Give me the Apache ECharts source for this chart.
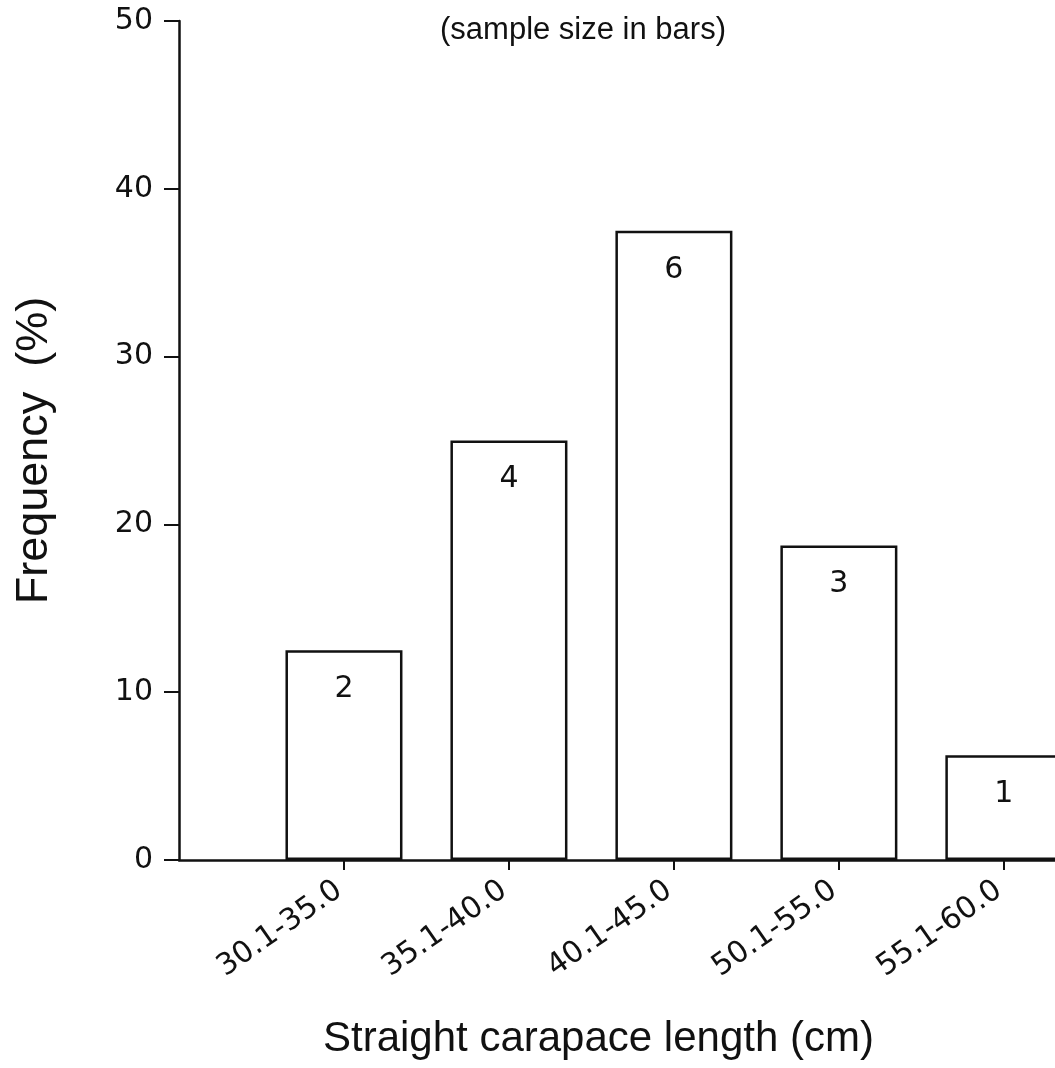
<!DOCTYPE html>
<html>
<head>
<meta charset="utf-8">
<script src="https://cdn.jsdelivr.net/npm/echarts@6/dist/echarts.min.js"></script>
<style>
  html, body { margin: 0; padding: 0; background: #fff; }
  #chart { width: 1055px; height: 1068px; }
</style>
</head>
<body>
<div id="chart"></div>
<script>
// Size classes of straight carapace length (cm)
const sizeClasses = ['30.1-35.0', '35.1-40.0', '40.1-45.0', '50.1-55.0', '55.1-60.0'];
// Frequency (%) of each size class
const frequency = [12.5, 25, 37.5, 18.75, 6.25];
// Number of animals in each size class, printed inside the bars
const sampleSize = [2, 4, 6, 3, 1];
// Frequency axis ticks
const yTicks = { min: 0, max: 50, step: 10 };

// Each class sits at slot 1..n along the x axis; slot 0 is the empty space next to the y axis
const slots = sizeClasses.map((_, i) => i + 1);
const barData = frequency.map((f, i) => [slots[i], f]);

const ink = '#111';
const chart = echarts.init(document.getElementById('chart'), null, { renderer: 'canvas' });

chart.setOption({
  backgroundColor: '#ffffff',
  animation: false,
  title: [
    {
      text: '(sample size in bars)',
      left: 435,
      top: 10,
      textStyle: { fontFamily: 'Liberation Sans', fontSize: 31, fontWeight: 'normal', color: ink }
    },
    {
      text: 'Straight carapace length (cm)',
      left: 318,
      top: 1013,
      textStyle: { fontFamily: 'Liberation Sans', fontSize: 42, fontWeight: 'normal', color: ink }
    }
  ],
  grid: { left: 179, top: 21, bottom: 208, right: 0, containLabel: false },
  xAxis: {
    type: 'value',
    min: 0,
    max: 5.31,
    interval: 1,
    axisLine: { lineStyle: { color: ink, width: 2.5 } },
    axisTick: {
      show: true,
      length: 10,
      customValues: slots,
      lineStyle: { color: ink, width: 2 }
    },
    axisLabel: {
      customValues: slots,
      rotate: 35,
      margin: 24,
      padding: [0, 6, 0, 0],
      fontFamily: 'DejaVu Sans',
      fontSize: 30,
      color: ink,
      formatter: (v) => sizeClasses[Math.round(v) - 1] || ''
    },
    splitLine: { show: false }
  },
  yAxis: {
    type: 'value',
    min: yTicks.min,
    max: yTicks.max,
    interval: yTicks.step,
    name: 'Frequency  (%)',
    nameLocation: 'middle',
    nameGap: 122,
    nameTextStyle: { fontFamily: 'Liberation Sans', fontSize: 45, color: ink, padding: [0, 20, 0, 0] },
    axisLine: { show: true, lineStyle: { color: ink, width: 2.5 } },
    axisTick: { show: true, length: 15, lineStyle: { color: ink, width: 2 } },
    axisLabel: { margin: 26, fontFamily: 'DejaVu Sans', fontSize: 30, color: ink },
    splitLine: { show: false }
  },
  series: [
    {
      type: 'bar',
      data: barData,
      barWidth: 117,
      itemStyle: { color: '#ffffff', borderColor: ink, borderWidth: 2.5 },
      label: {
        show: true,
        position: 'insideTop',
        distance: 24,
        fontFamily: 'DejaVu Sans',
        fontSize: 30,
        color: ink,
        formatter: (p) => String(sampleSize[p.dataIndex])
      }
    }
  ]
});
</script>
</body>
</html>
